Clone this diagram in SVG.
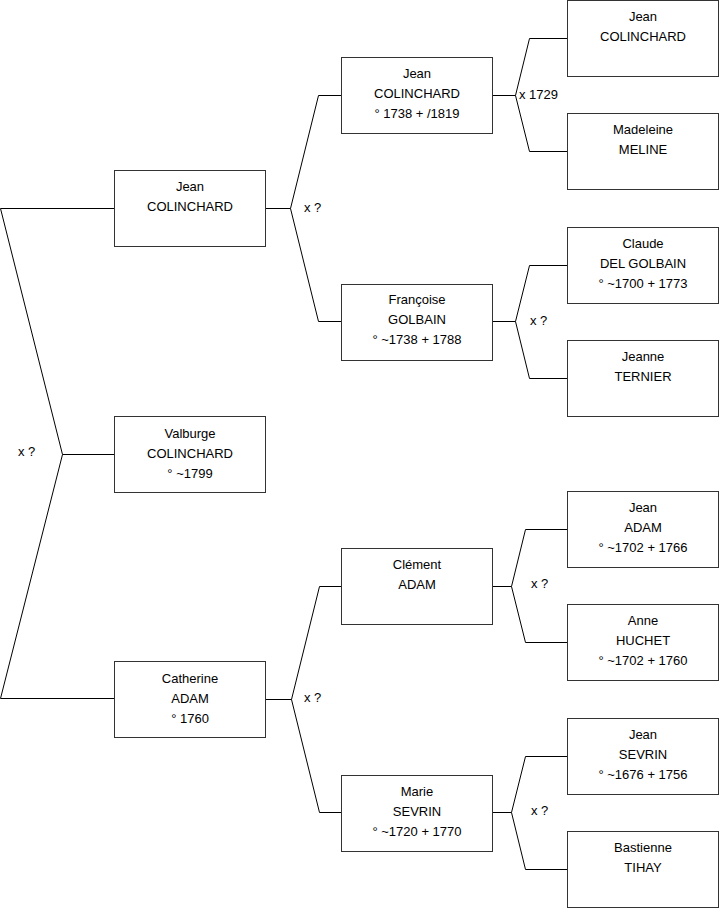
<svg xmlns="http://www.w3.org/2000/svg" width="719" height="908" viewBox="0 0 719 908">
<style>
.box{fill:#fff;stroke:#333;stroke-width:1}
.c{fill:none;stroke:#000;stroke-width:1}
text{font-family:"Liberation Sans",Arial,sans-serif;font-size:13px;fill:#000}
.t{text-anchor:middle}
</style>
<rect width="719" height="908" fill="#fff"/>
<g id="connectors">
<path class="c" d="M114.5,208.5H0.5L62.5,454.5L0.5,698.5H114.5M62.5,454.5H114.5"/>
<path class="c" d="M265.5,208.5H290.5L318.5,95.5H341.5M290.5,208.5L318.5,321.5H341.5"/>
<path class="c" d="M265.5,699.5H291.5L319.5,586.5H341.5M291.5,699.5L319.5,812.5H341.5"/>
<path class="c" d="M492.5,95.5H515.5L529.5,38.5H567.5M515.5,95.5L529.5,151.5H567.5"/>
<path class="c" d="M492.5,321.5H515.5L529.5,265.5H567.5M515.5,321.5L529.5,378.5H567.5"/>
<path class="c" d="M492.5,586.5H511.5L525.5,529.5H567.5M511.5,586.5L525.5,642.5H567.5"/>
<path class="c" d="M492.5,812.5H511.5L525.5,756.5H567.5M511.5,812.5L525.5,869.5H567.5"/>
<text x="18" y="456">x ?</text>
<text x="304" y="212">x ?</text>
<text x="304" y="702">x ?</text>
<text x="519" y="99">x 1729</text>
<text x="530" y="325">x ?</text>
<text x="531" y="588">x ?</text>
<text x="531" y="815">x ?</text>
</g>
<g id="n1"><rect class="box" x="114.5" y="170.5" width="151" height="76"/><text class="t" x="190" y="191">Jean</text><text class="t" x="190" y="211">COLINCHARD</text></g>
<g id="n0"><rect class="box" x="114.5" y="416.5" width="151" height="76"/><text class="t" x="190" y="438">Valburge</text><text class="t" x="190" y="458">COLINCHARD</text><text class="t" x="190" y="478">° ~1799</text></g>
<g id="n2"><rect class="box" x="114.5" y="661.5" width="151" height="76"/><text class="t" x="190" y="683">Catherine</text><text class="t" x="190" y="703">ADAM</text><text class="t" x="190" y="723">° 1760</text></g>
<g id="n3"><rect class="box" x="341.5" y="57.5" width="151" height="76"/><text class="t" x="417" y="78">Jean</text><text class="t" x="417" y="98">COLINCHARD</text><text class="t" x="417" y="118">° 1738 + /1819</text></g>
<g id="n4"><rect class="box" x="341.5" y="284.5" width="151" height="76"/><text class="t" x="417" y="304">Françoise</text><text class="t" x="417" y="324">GOLBAIN</text><text class="t" x="417" y="344">° ~1738 + 1788</text></g>
<g id="n5"><rect class="box" x="341.5" y="548.5" width="151" height="76"/><text class="t" x="417" y="569">Clément</text><text class="t" x="417" y="589">ADAM</text></g>
<g id="n6"><rect class="box" x="341.5" y="775.5" width="151" height="76"/><text class="t" x="417" y="796">Marie</text><text class="t" x="417" y="816">SEVRIN</text><text class="t" x="417" y="836">° ~1720 + 1770</text></g>
<g id="n7"><rect class="box" x="567.5" y="0.5" width="151" height="76"/><text class="t" x="643" y="21">Jean</text><text class="t" x="643" y="41">COLINCHARD</text></g>
<g id="n8"><rect class="box" x="567.5" y="113.5" width="151" height="76"/><text class="t" x="643" y="134">Madeleine</text><text class="t" x="643" y="154">MELINE</text></g>
<g id="n9"><rect class="box" x="567.5" y="227.5" width="151" height="76"/><text class="t" x="643" y="248">Claude</text><text class="t" x="643" y="268">DEL GOLBAIN</text><text class="t" x="643" y="288">° ~1700 + 1773</text></g>
<g id="n10"><rect class="box" x="567.5" y="340.5" width="151" height="76"/><text class="t" x="643" y="361">Jeanne</text><text class="t" x="643" y="381">TERNIER</text></g>
<g id="n11"><rect class="box" x="567.5" y="491.5" width="151" height="76"/><text class="t" x="643" y="512">Jean</text><text class="t" x="643" y="532">ADAM</text><text class="t" x="643" y="552">° ~1702 + 1766</text></g>
<g id="n12"><rect class="box" x="567.5" y="604.5" width="151" height="76"/><text class="t" x="643" y="625">Anne</text><text class="t" x="643" y="645">HUCHET</text><text class="t" x="643" y="665">° ~1702 + 1760</text></g>
<g id="n13"><rect class="box" x="567.5" y="718.5" width="151" height="76"/><text class="t" x="643" y="739">Jean</text><text class="t" x="643" y="759">SEVRIN</text><text class="t" x="643" y="779">° ~1676 + 1756</text></g>
<g id="n14"><rect class="box" x="567.5" y="831.5" width="151" height="76"/><text class="t" x="643" y="852">Bastienne</text><text class="t" x="643" y="872">TIHAY</text></g>
</svg>
